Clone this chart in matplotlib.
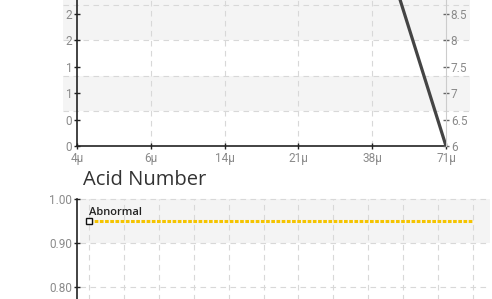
import numpy as np
import matplotlib
matplotlib.use("Agg")
import matplotlib.pyplot as plt
from matplotlib.patches import Rectangle
import matplotlib.transforms as mtransforms

# ---------------- data ----------------
sizes = ["4\u03bc", "6\u03bc", "14\u03bc", "21\u03bc", "38\u03bc", "71\u03bc"]
particle_values = [np.nan, np.nan, np.nan, np.nan, 10.45, 6.0]
left_ticks = [0.0, 0.4, 0.8, 1.2, 1.6, 2.0]
right_ticks = [6.0, 6.5, 7.0, 7.5, 8.0, 8.5]

acid_x = list(range(12))
acid_values = [0.95] * 12
acid_label = "Abnormal"
acid_ticks = [0.80, 0.90, 1.00]

W, H = 492, 299
fig = plt.figure(figsize=(W / 100, H / 100), dpi=100)

def fx(px):
    return px / W

def fy(py):
    return 1 - py / H

tick_color = "#8a8a8a"

# ---------------- top chart ----------------
top_px, bot_px = -20, 146
axL = fig.add_axes([fx(77), fy(bot_px), fx(446 - 77), (bot_px - top_px) / H])
axL.set_xlim(0, 5)
axL.set_ylim(0, (bot_px - top_px) / 66.0)
axR = axL.twinx()
axR.set_ylim(6, 6 + (bot_px - top_px) / 52.8)

blend = mtransforms.blended_transform_factory(fig.transFigure, axL.transData)
for lo, hi in [(0.5333, 1.0667), (1.6, 2.6667)]:
    axL.add_patch(Rectangle((fx(63), lo), fx(470) - fx(63), hi - lo, transform=blend,
                            facecolor="#f4f4f4", edgecolor="none", clip_on=False, zorder=0))
for g in [0.5333, 1.0667, 1.6, 2.1333]:
    axL.plot([fx(63), fx(470)], [g, g], transform=blend, color="#d8d8d8", lw=0.8,
             ls=(0, (5, 4)), clip_on=False, zorder=0.5)
for i in range(1, 5):
    axL.axvline(i, color="#d8d8d8", lw=0.8, ls=(0, (5, 4)), zorder=0.5)

axL.set_xticks(range(len(sizes)))
axL.set_xticklabels(sizes)
axL.set_yticks(left_ticks)
axL.set_yticklabels([f"{v:.0f}" for v in left_ticks])
axR.set_yticks(right_ticks)
axR.set_yticklabels([f"{v:g}" for v in right_ticks])

for ax in (axL, axR):
    ax.spines["top"].set_visible(False)
axL.spines["right"].set_visible(False)
axR.spines["left"].set_visible(False)
axR.spines["bottom"].set_visible(False)
axR.spines["right"].set_color("#cccccc")
axR.spines["right"].set_linewidth(0.8)
for s in ("left", "bottom"):
    axL.spines[s].set_color("#222222")
    axL.spines[s].set_linewidth(1.2)

axL.tick_params(axis="x", direction="inout", length=5, width=1, color="#222222",
                labelcolor=tick_color, labelsize=8.5, pad=2)
axL.tick_params(axis="y", direction="inout", length=5, width=1, color="#222222",
                labelcolor=tick_color, labelsize=8.5, pad=1)
axR.tick_params(axis="y", direction="inout", length=5, width=1, color="#666666",
                labelcolor=tick_color, labelsize=8.5, pad=1)
for lab in axL.get_xticklabels() + axL.get_yticklabels() + axR.get_yticklabels():
    lab.set_family("Roboto")
for lab in axR.get_yticklabels():
    lab.set_verticalalignment("center_baseline")

axR.plot(range(len(sizes)), particle_values, color="#444444", lw=2.3, zorder=3,
         solid_capstyle="round")
axL.patch.set_visible(False)
axR.patch.set_visible(False)

# ---------------- bottom chart ----------------
btop, bbot = 199, 330
axB = fig.add_axes([fx(77), fy(bbot), fx(490 - 77), (bbot - btop) / H])
axB.set_ylim(1.0 - (bbot - btop) / 440.0, 1.0)
axB.set_xlim(-0.344, 11.49)
axB.patch.set_visible(False)

blendB = mtransforms.blended_transform_factory(fig.transFigure, axB.transData)
axB.add_patch(Rectangle((fx(80), 0.90), fx(490) - fx(80), 0.10, transform=blendB,
                        facecolor="#f4f4f4", edgecolor="none", clip_on=False, zorder=0))
for g in acid_ticks:
    axB.plot([fx(80), fx(490)], [g, g], transform=blendB, color="#d8d8d8", lw=0.8,
             ls=(0, (5, 4)), clip_on=False, zorder=0.5)
for xv in acid_x:
    axB.axvline(xv, color="#d8d8d8", lw=0.8, ls=(0, (5, 4)), zorder=0.5)

axB.plot(acid_x, acid_values, color="#f5c400", lw=2.2, ls=(0, (1.2, 0.5)), zorder=3)
axB.plot([acid_x[0]], [acid_values[0]], marker="s", ms=4, mfc="white", mec="#111111",
         mew=1, zorder=4)
axB.text(acid_x[0], acid_values[0] + 0.007, acid_label, fontsize=8, family="Open Sans",
         weight="semibold", color="#222222", ha="left", va="bottom", zorder=5)

axB.set_yticks(acid_ticks)
axB.set_yticklabels([f"{v:.2f}" for v in acid_ticks])
axB.set_xticks([])
for s in ("top", "right", "bottom"):
    axB.spines[s].set_visible(False)
axB.spines["left"].set_color("#222222")
axB.spines["left"].set_linewidth(1.2)
axB.tick_params(axis="y", direction="inout", length=5, width=1, color="#222222",
                labelcolor=tick_color, labelsize=8.5, pad=1)
for lab in axB.get_yticklabels():
    lab.set_family("Roboto")

fig.text(fx(83), fy(185), "Acid Number", fontsize=14.5, family="Open Sans",
         color="#333333", ha="left", va="baseline")

fig.savefig("out.png", dpi=100)
